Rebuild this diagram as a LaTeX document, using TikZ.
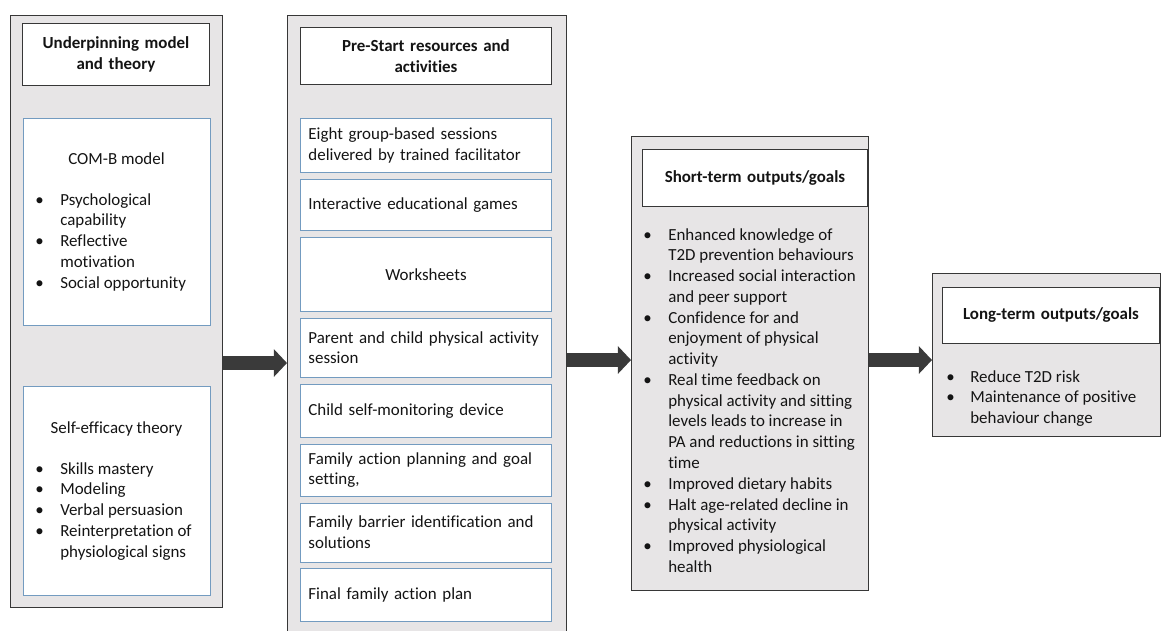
\documentclass[tikz,border=0pt]{standalone}
\usepackage{fontspec}
\setmainfont{Carlito}[Ligatures=NoCommon]
\usetikzlibrary{arrows.meta, positioning}
\definecolor{panelgray}{RGB}{231,229,230}
\definecolor{itemblue}{RGB}{115,155,192}
\definecolor{arrowgray}{RGB}{58,58,58}
\definecolor{framegray}{RGB}{55,55,55}
\newcommand{\bul}{\textbullet}

\begin{document}
\begin{tikzpicture}[x=0.65pt, y=-0.65pt, text=black!92,
  font=\fontsize{11}{13.5}\selectfont,
  panel/.style={draw=framegray, line width=0.6pt, fill=panelgray, anchor=north west, inner sep=0pt},
  titlebox/.style={draw=framegray, line width=0.6pt, fill=white, anchor=north west, inner sep=0pt,
    align=center, font=\fontsize{11}{13.5}\selectfont\bfseries},
  itembox/.style={draw=itemblue, line width=0.6pt, fill=white, anchor=north west, inner xsep=5.2pt,
    inner ysep=0pt, text width=152.75pt, align=left},
  sz/.style 2 args={minimum width=#1*0.65pt, minimum height=#2*0.65pt},
  list/.style={anchor=base west, inner sep=0pt, align=left},
  bigarrow/.style={draw=arrowgray, line width=9.1pt, -{Triangle[length=8.5pt, width=17.5pt]}},
  node distance=3.9pt
]
\useasboundingbox (0,0) rectangle (1161,630);
\clip (0,0) rectangle (1161,630);

% the four columns
\node[panel, sz={212}{592}] (p1) at (10,15) {};
\node[panel, sz={279}{640}] (p2) at (287,15) {};
\node[panel, sz={237}{454}] (p3) at (631,136) {};
\node[panel, sz={228}{163}] (p4) at (932,273) {};

% underpinning model and theory
\node[titlebox, text width=121.55pt, minimum height=62*0.65pt] (t1) at (22,23)
  {Underpinning model\\ and theory};
\node[itembox, text width=121.55pt, inner xsep=0pt, minimum height=207*0.65pt] (comb) at (23,118) {};
\node[anchor=base] (combhead) at (116.5,164) {COM-B model};
\node[list] (comblist) at (35,205) {\begin{tabular}[t]{@{}p{16.25pt}@{}l@{}}
  \bul & Psychological\\
       & capability\\
  \bul & Reflective\\
       & motivation\\
  \bul & Social opportunity
\end{tabular}};
\node[itembox, text width=121.55pt, inner xsep=0pt, minimum height=209*0.65pt] (se) at (23,386) {};
\node[anchor=base] (sehead) at (116.5,433) {Self-efficacy theory};
\node[list] (selist) at (35,474) {\begin{tabular}[t]{@{}p{16.25pt}@{}l@{}}
  \bul & Skills mastery\\
  \bul & Modeling\\
  \bul & Verbal persuasion\\
  \bul & Reinterpretation of\\
       & physiological signs
\end{tabular}};

% resources and activities
\node[titlebox, text width=163.15pt, minimum height=57*0.65pt] (t2) at (300,27)
  {Pre-Start resources and\\ activities};
\node[itembox, minimum height=54*0.65pt] (i1) at (300,118)
  {Eight group-based sessions\\ delivered by trained facilitator};
\node[itembox, minimum height=51*0.65pt, below=of i1.south west, anchor=north west] (i2)
  {Interactive educational games};
\node[itembox, minimum height=74*0.65pt, align=center, below=of i2.south west, anchor=north west] (i3)
  {Worksheets};
\node[itembox, minimum height=59*0.65pt, below=of i3.south west, anchor=north west] (i4)
  {Parent and child physical activity\\ session};
\node[itembox, minimum height=53*0.65pt, below=of i4.south west, anchor=north west] (i5)
  {Child self-monitoring device};
\node[itembox, minimum height=52*0.65pt, below=of i5.south west, anchor=north west] (i6)
  {Family action planning and goal\\ setting,};
\node[itembox, minimum height=59*0.65pt, below=of i6.south west, anchor=north west] (i7)
  {Family barrier identification and\\ solutions};
\node[itembox, minimum height=53*0.65pt, below=of i7.south west, anchor=north west] (i8)
  {Final family action plan};

% short-term outputs
\node[titlebox, text width=146.25pt, minimum height=57*0.65pt] (t3) at (642,149)
  {Short-term outputs/goals};
\node[list] (stlist) at (643,240) {\begin{tabular}[t]{@{}p{16.25pt}@{}l@{}}
  \bul & Enhanced knowledge of\\
       & T2D prevention behaviours\\
  \bul & Increased social interaction\\
       & and peer support\\
  \bul & Confidence for and\\
       & enjoyment of physical\\
       & activity\\
  \bul & Real time feedback on\\
       & physical activity and sitting\\
       & levels leads to increase in\\
       & PA and reductions in sitting\\
       & time\\
  \bul & Improved dietary habits\\
  \bul & Halt age-related decline in\\
       & physical activity\\
  \bul & Improved physiological\\
       & health
\end{tabular}};

% long-term outputs
\node[titlebox, text width=141.05pt, minimum height=56*0.65pt] (t4) at (942,287)
  {Long-term outputs/goals};
\node[list] (ltlist) at (946,382) {\begin{tabular}[t]{@{}p{15.6pt}@{}l@{}}
  \bul & Reduce T2D risk\\
  \bul & Maintenance of positive\\
       & behaviour change
\end{tabular}};

% arrows
\coordinate (a1) at (0,363);
\coordinate (a2) at (0,360);
\draw[bigarrow] (p1.east |- a1) -- (p2.west |- a1);
\draw[bigarrow] (p2.east |- a2) -- (p3.west |- a2);
\draw[bigarrow] (p3.east |- a2) -- (p4.west |- a2);
\end{tikzpicture}
\end{document}
